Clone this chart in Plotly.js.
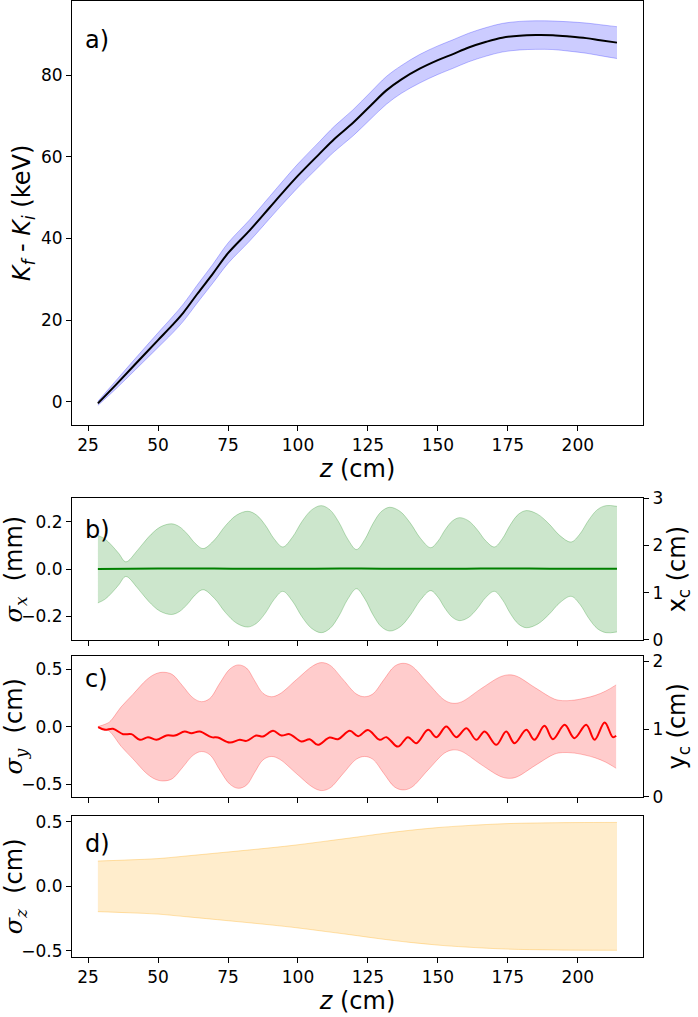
<!DOCTYPE html>
<html>
<head>
<meta charset="utf-8">
<script src="https://cdn.plot.ly/plotly-3.0.1.min.js"></script>
<style>html,body{margin:0;padding:0;background:#fff;}#chart{width:698px;height:1017px;}</style>
</head>
<body>
<div id="chart"></div>
<script>
// ---- Panel a: kinetic energy gain ----
const zK = [28.5, 35, 42, 50, 55, 59, 64, 69.6, 75, 82.75, 89.9, 95, 100, 107.75, 113, 119.6, 126, 131.6, 137, 143.5, 150, 155.4, 161, 167.3, 173, 179.2, 185, 191.1, 197, 203, 208, 214];
const dK = [-0.4, 4.2, 9.3, 15.1, 18.7, 21.8, 26.4, 31.4, 36.4, 42.0, 47.6, 51.6, 55.4, 60.8, 64.4, 68.3, 72.6, 76.3, 79.0, 81.6, 83.7, 85.2, 86.8, 88.2, 89.2, 89.7, 89.85, 89.8, 89.5, 89.1, 88.6, 88.0];
const sK = [0.5, 1.0, 1.4, 1.8, 2.0, 2.1, 2.2, 2.3, 2.5, 2.6, 2.7, 2.8, 2.9, 3.0, 3.1, 3.2, 3.3, 3.4, 3.4, 3.5, 3.5, 3.5, 3.5, 3.5, 3.5, 3.5, 3.5, 3.5, 3.6, 3.7, 3.8, 3.9];

// ---- Panel b: sigma_x (mm) and x_c (cm) ----
const zSx = [28.5, 31, 33.5, 36, 38.5, 42.6, 46.6, 50.7, 54.8, 57.6, 60.45, 63.3, 66.1, 70.1, 74.1, 78.1, 82.1, 85.2, 88.35, 91.5, 94.6, 98.0, 101.45, 104.9, 108.3, 111.45, 114.6, 117.75, 120.9, 123.9, 126.85, 129.8, 132.8, 136.45, 140.1, 143.75, 147.4, 150.0, 152.6, 155.2, 157.75, 160.9, 164.0, 167.1, 170.2, 173.05, 175.9, 178.75, 181.6, 185.6, 189.6, 193.6, 197.6, 200.7, 203.85, 207.0, 210.1, 214];
const sx = [0.143, 0.128, 0.1, 0.066, 0.031, 0.079, 0.136, 0.178, 0.192, 0.18, 0.149, 0.109, 0.087, 0.123, 0.184, 0.229, 0.245, 0.229, 0.186, 0.128, 0.094, 0.135, 0.202, 0.251, 0.269, 0.251, 0.199, 0.128, 0.083, 0.126, 0.194, 0.244, 0.262, 0.245, 0.196, 0.131, 0.091, 0.118, 0.167, 0.204, 0.218, 0.205, 0.168, 0.12, 0.094, 0.129, 0.188, 0.232, 0.248, 0.233, 0.193, 0.142, 0.115, 0.148, 0.207, 0.252, 0.269, 0.266];
const zXc = [28.5, 40, 55, 70, 85, 100, 115, 130, 145, 160, 175, 190, 205, 214];
const xc = [1.505, 1.508, 1.515, 1.512, 1.506, 1.508, 1.512, 1.51, 1.506, 1.51, 1.514, 1.51, 1.507, 1.506];

// ---- Panel c: sigma_y (cm) and y_c (cm) ----
const zSy = [28.5, 31, 32.75, 36.9, 41, 46, 49, 51.7, 55, 58.6, 62.5, 65.5, 68.5, 72.05, 75.6, 78.6, 81.6, 84.5, 87.5, 90.5, 93.5, 99.5, 105.4, 108.4, 111.4, 116.1, 120.8, 123.8, 126.8, 130.6, 134.5, 137.5, 140.5, 146.5, 152.4, 155.4, 158.4, 165.2, 172, 175, 178, 184.8, 191.6, 194.6, 197.6, 200, 206, 210, 213.7];
const sy = [0.0, 0.02, 0.043, 0.174, 0.28, 0.41, 0.458, 0.473, 0.455, 0.36, 0.25, 0.217, 0.245, 0.377, 0.5, 0.537, 0.51, 0.40, 0.29, 0.26, 0.285, 0.41, 0.53, 0.557, 0.535, 0.41, 0.285, 0.26, 0.285, 0.405, 0.525, 0.551, 0.53, 0.377, 0.23, 0.203, 0.215, 0.326, 0.43, 0.45, 0.44, 0.338, 0.24, 0.226, 0.228, 0.235, 0.27, 0.31, 0.363];
const zYc = [28.6, 31, 33.9, 37.5, 40.5, 43.5, 46.4, 49.4, 53, 56, 59.5, 61.9, 64.9, 69.1, 71.4, 75.6, 79.2, 81.6, 85.1, 87.5, 91.1, 94.1, 97, 101.2, 104.2, 107.1, 111.3, 114.3, 118.5, 121.5, 125, 129.2, 131.6, 135.7, 139.3, 142.3, 146.5, 149.5, 153, 156.6, 160.2, 163.7, 166.7, 170.9, 174.4, 177.4, 181.6, 184.5, 188.1, 191.1, 195.3, 198.8, 203, 206, 209.6, 212.5, 213.7];
const yc = [1.028, 0.988, 1.003, 0.924, 0.924, 0.84, 0.88, 0.84, 0.904, 0.904, 0.963, 0.939, 0.963, 0.88, 0.874, 0.80, 0.84, 0.825, 0.904, 0.889, 0.973, 0.904, 0.924, 0.815, 0.85, 0.766, 0.874, 0.85, 0.975, 0.895, 0.985, 0.84, 0.88, 0.74, 0.88, 0.79, 0.988, 0.88, 1.037, 0.88, 1.013, 0.84, 0.963, 0.766, 0.963, 0.79, 0.988, 0.84, 1.047, 0.85, 1.062, 0.865, 1.062, 0.84, 1.096, 0.88, 0.9];

// ---- Panel d: sigma_z (cm) ----
const zSz = [28.5, 40, 50, 60, 75, 90, 100, 110, 118.5, 130, 140, 150, 160, 175, 190, 200, 214];
const sz = [0.196, 0.205, 0.215, 0.235, 0.266, 0.298, 0.322, 0.35, 0.374, 0.408, 0.434, 0.455, 0.47, 0.486, 0.492, 0.494, 0.495];

// tick labels
const tickZ = [25, 50, 75, 100, 125, 150, 175, 200];

const FONT = 'DejaVu Sans, sans-serif';
const XR = [19.25, 223.3];

function band(z, c, s, color, edge, xa, ya, shape) {
  const lo = c.map((v, i) => v - s[i]);
  const hi = c.map((v, i) => v + s[i]);
  return [
    {x: z, y: lo, xaxis: xa, yaxis: ya, mode: 'lines', line: {color: edge, width: 1, shape: shape}, showlegend: false, hoverinfo: 'skip'},
    {x: z, y: hi, xaxis: xa, yaxis: ya, mode: 'lines', fill: 'tonexty', fillcolor: color, line: {color: edge, width: 1, shape: shape}, showlegend: false, hoverinfo: 'skip'}
  ];
}
const zeros = n => new Array(n).fill(0);

const traces = [];
traces.push(...band(zK, dK, sK, 'rgba(0,0,255,0.2)', 'rgba(0,0,255,0.25)', 'x', 'y', 'spline'));
traces.push({x: zK, y: dK, xaxis: 'x', yaxis: 'y', mode: 'lines', line: {color: '#000', width: 2, shape: 'spline'}, showlegend: false});

traces.push(...band(zSx, zeros(zSx.length), sx, 'rgba(0,128,0,0.2)', 'rgba(0,128,0,0.25)', 'x2', 'y2', 'spline'));
traces.push({x: zXc, y: xc, xaxis: 'x2', yaxis: 'y3', mode: 'lines', line: {color: '#008000', width: 2, shape: 'spline'}, showlegend: false});

traces.push(...band(zSy, zeros(zSy.length), sy, 'rgba(255,0,0,0.2)', 'rgba(255,0,0,0.25)', 'x3', 'y4', 'spline'));
traces.push({x: zYc, y: yc, xaxis: 'x3', yaxis: 'y5', mode: 'lines', line: {color: '#ff0000', width: 2, shape: 'spline'}, showlegend: false});

traces.push(...band(zSz, zeros(zSz.length), sz, 'rgba(255,165,0,0.2)', 'rgba(255,165,0,0.3)', 'x4', 'y6', 'spline'));

const tickfont = {family: FONT, size: 17, color: '#000'};
const titlefont = {family: FONT, size: 24, color: '#000'};

function xax(anchor, labels, title) {
  const a = {
    anchor: anchor, domain: [0, 1], range: XR, tickmode: 'array', tickvals: tickZ, ticktext: tickZ.map(String),
    showticklabels: labels, ticks: 'outside', ticklen: 5, tickwidth: 1, tickcolor: '#000',
    showline: true, linecolor: '#000', linewidth: 1, mirror: true, showgrid: false, zeroline: false,
    tickfont: tickfont
  };
  if (title) a.title = {text: '<i>z</i> (cm)', font: titlefont, standoff: 2};
  return a;
}
function yax(domain, range, tickvals, ticktext, title, standoff) {
  return {
    domain: domain, range: range, tickmode: 'array', tickvals: tickvals, ticktext: ticktext,
    ticks: 'outside', ticklen: 5, tickwidth: 1, tickcolor: '#000',
    showline: true, linecolor: '#000', linewidth: 1, mirror: true, showgrid: false, zeroline: false,
    tickfont: tickfont, title: {text: title, font: titlefont, standoff: standoff}
  };
}
function yright(overlay, anchor, range, tickvals, title) {
  return {
    overlaying: overlay, anchor: anchor, side: 'right', range: range, tickmode: 'array', tickvals: tickvals,
    ticktext: tickvals.map(String), ticks: 'outside', ticklen: 5, tickwidth: 1, tickcolor: '#000',
    showline: true, linecolor: '#000', linewidth: 1, showgrid: false, zeroline: false,
    tickfont: tickfont, title: {text: title, font: titlefont, standoff: 5}
  };
}

const sig = s => '<span style="font-family:DejaVu Serif"><i>σ<sub>' + s + '</sub></i></span>';

const layout = {
  width: 698, height: 1017,
  margin: {l: 72, r: 55, t: 1, b: 60},
  paper_bgcolor: '#fff', plot_bgcolor: '#fff',
  font: {family: FONT, color: '#000'},
  showlegend: false,
  xaxis: xax('y', true, true),
  yaxis: yax([0.5565, 1], [-5.7, 98.2], [0, 20, 40, 60, 80], ['0', '20', '40', '60', '80'],
    '<i>K<sub>f</sub></i> - <i>K<sub>i</sub></i> (keV)', 3),
  xaxis2: xax('y2', false, false),
  yaxis2: yax([0.3316, 0.4798], [-0.3, 0.3], [-0.2, 0, 0.2], ['−0.2', '0.0', '0.2'], sig('x') + '  (mm)', 0),
  yaxis3: yright('y2', 'x2', [0, 3], [0, 1, 2, 3], 'x<sub>c</sub> (cm)'),
  xaxis3: xax('y4', false, false),
  yaxis4: yax([0.1677, 0.3149], [-0.61, 0.615], [-0.5, 0, 0.5], ['−0.5', '0.0', '0.5'], sig('y') + '  (cm)', 0),
  yaxis5: yright('y4', 'x3', [0, 2.08], [0, 1, 2], 'y<sub>c</sub> (cm)'),
  xaxis4: xax('y6', true, true),
  yaxis6: yax([0, 0.1478], [-0.547, 0.547], [-0.5, 0, 0.5], ['−0.5', '0.0', '0.5'], sig('z') + '  (cm)', 0),
  annotations: [
    {text: 'a)', xref: 'x domain', yref: 'y domain', x: 0.02, y: 0.908, xanchor: 'left', yanchor: 'middle', showarrow: false, font: {family: FONT, size: 24, color: '#000'}},
    {text: 'b)', xref: 'x2 domain', yref: 'y2 domain', x: 0.02, y: 0.773, xanchor: 'left', yanchor: 'middle', showarrow: false, font: {family: FONT, size: 24, color: '#000'}},
    {text: 'c)', xref: 'x3 domain', yref: 'y4 domain', x: 0.02, y: 0.837, xanchor: 'left', yanchor: 'middle', showarrow: false, font: {family: FONT, size: 24, color: '#000'}},
    {text: 'd)', xref: 'x4 domain', yref: 'y6 domain', x: 0.02, y: 0.798, xanchor: 'left', yanchor: 'middle', showarrow: false, font: {family: FONT, size: 24, color: '#000'}}
  ]
};

Plotly.newPlot('chart', traces, layout, {staticPlot: true, displayModeBar: false});
</script>
</body>
</html>
